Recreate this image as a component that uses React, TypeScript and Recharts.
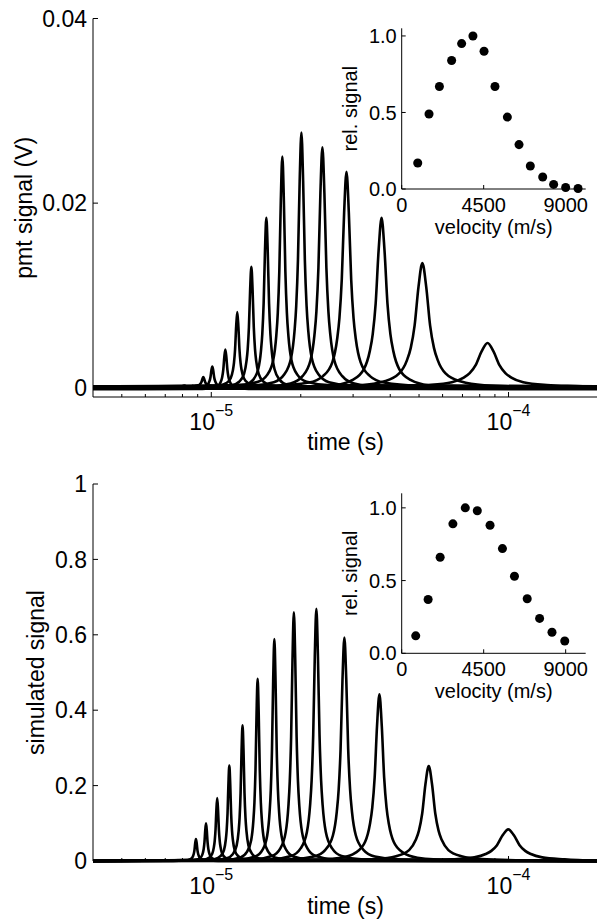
import React from 'react';
import { LineChart, Line, XAxis, YAxis, ScatterChart, Scatter } from 'recharts';

const FONT = '"Liberation Sans", Arial, Helvetica, sans-serif';

// top panel: measured pmt traces, one per velocity
const pmtPeakTime = [8.11e-6, 8.66e-6, 9.4e-6, 1.008e-5, 1.115e-5, 1.223e-5, 1.364e-5, 1.532e-5, 1.734e-5, 2.01e-5, 2.365e-5, 2.85e-5, 3.74e-5, 5.13e-5, 8.5e-5];
const pmtPeakHeight = [0.00015, 0.0003, 0.001, 0.0023, 0.0043, 0.0081, 0.0131, 0.0185, 0.0249, 0.0276, 0.0261, 0.0233, 0.0185, 0.0135, 0.0048];
// half width at half maximum, in decades of time
const pmtHalfWidth = [0.0052, 0.0055, 0.0059, 0.0062, 0.0068, 0.0074, 0.0082, 0.0091, 0.0102, 0.0116, 0.0134, 0.0158, 0.0198, 0.026, 0.04];
const pmtBaseline = [0.0001, -0.0001, 0.00015, 0, -0.00015, 0.0001, 0, -0.0001, 0.00015, 0.00005, -0.00005, 0.0001, -0.0001, 0, 0.00005];

// bottom panel: simulated traces
const simPeakTime = [8.88e-6, 9.6e-6, 1.047e-5, 1.15e-5, 1.274e-5, 1.432e-5, 1.63e-5, 1.896e-5, 2.257e-5, 2.804e-5, 3.678e-5, 5.39e-5, 9.98e-5];
const simPeakHeight = [0.058, 0.1, 0.167, 0.253, 0.36, 0.483, 0.589, 0.66, 0.669, 0.593, 0.442, 0.252, 0.084];
const simHalfWidth = [0.005, 0.0052, 0.0056, 0.006, 0.0066, 0.0072, 0.008, 0.0092, 0.0106, 0.0128, 0.016, 0.022, 0.038];
const simBaseline = [0, 0, 0, 0, 0, 0, 0, 0, 0, 0, 0, 0, 0];

// trace shape: offset in half widths -> fraction of peak height
const profileOffset = [-15, -8, -5, -3, -2, -1.5, -1, -0.5, 0, 0.5, 1, 1.5, 2, 3, 5, 8, 15];
const profileLevel = [0.006, 0.02, 0.05, 0.115, 0.22, 0.32, 0.5, 0.81, 1, 0.81, 0.5, 0.32, 0.22, 0.115, 0.05, 0.02, 0.006];

// insets: relative signal vs velocity
const pmtVelocity = [880, 1500, 2070, 2740, 3290, 3910, 4520, 5120, 5800, 6440, 7060, 7740, 8340, 9000, 9680];
const pmtRelSignal = [0.17, 0.49, 0.67, 0.84, 0.95, 1.0, 0.9, 0.67, 0.47, 0.29, 0.15, 0.078, 0.03, 0.01, 0.003];
const simVelocity = [770, 1450, 2110, 2810, 3490, 4150, 4850, 5530, 6190, 6890, 7570, 8250, 8950];
const simRelSignal = [0.12, 0.37, 0.66, 0.89, 1.0, 0.98, 0.88, 0.72, 0.53, 0.375, 0.24, 0.145, 0.085];

const timeDomain = [4e-6, 2e-4];
const timeTicks = [5e-6, 6e-6, 7e-6, 8e-6, 9e-6, 1e-5, 2e-5, 3e-5, 4e-5, 5e-5, 6e-5, 7e-5, 8e-5, 9e-5, 1e-4, 2e-4];
const timeMajor = [1e-5, 1e-4];
const pmtTicks = [0, 0.02, 0.04];
const simTicks = [0, 0.2, 0.4, 0.6, 0.8, 1];
const velTicks = [0, 4500, 9000];
const relTicks = [0, 0.5, 1];

const axisStyle = { stroke: '#000', strokeWidth: 1 };

function buildRows(times: number[], heights: number[], widths: number[], bases: number[]) {
  const rows: any[] = [];
  times.forEach((t0, i) => {
    const key = `c${i}`;
    rows.push({ t: timeDomain[0], [key]: bases[i] });
    profileOffset.forEach((o, j) => {
      const t = t0 * Math.pow(10, o * widths[i]);
      if (t > timeDomain[0] && t < timeDomain[1]) rows.push({ t, [key]: bases[i] + heights[i] * profileLevel[j] });
    });
    rows.push({ t: timeDomain[1], [key]: bases[i] });
  });
  return rows.sort((a, b) => a.t - b.t);
}

type TickOpts = { len: number; minorLen?: number; majors?: number[]; label?: (x: number, y: number, v: number) => React.ReactNode };

const makeTick = (side: 'bottom' | 'top' | 'left' | 'right', o: TickOpts) => (props: any) => {
  const { x, y, payload } = props;
  const v = payload.value;
  const major = o.majors ? o.majors.includes(v) : true;
  const len = major ? o.len : o.minorLen ?? o.len;
  const dx = side === 'left' ? len : side === 'right' ? -len : 0;
  const dy = side === 'bottom' ? -len : side === 'top' ? len : 0;
  return (
    <g>
      <line x1={x} y1={y} x2={x + dx} y2={y + dy} stroke="#000" strokeWidth={1} />
      {major && o.label ? o.label(x, y, v) : null}
    </g>
  );
};

const timeLabel = (x: number, y: number, v: number) => (
  <text x={x} y={y + 33} textAnchor="middle" fontSize={23} fill="#000">
    10<tspan dy={-14} fontSize={16}>{'\u2212' + Math.round(-Math.log10(v))}</tspan>
  </text>
);

const leftLabel = (fmt: (v: number) => string, size: number, gap: number) => (x: number, y: number, v: number) => (
  <text x={x - gap} y={y} dy="0.36em" textAnchor="end" fontSize={size} fill="#000">{fmt(v)}</text>
);

const velLabel = (x: number, y: number, v: number) => (
  <text x={x} y={y + 23} textAnchor="middle" fontSize={20} fill="#000">{String(v)}</text>
);

const xTitle = (text: string, dy: number, size: number) => (props: any) => {
  const vb = props.viewBox || { x: 0, y: 0, width: 0 };
  return (
    <text x={vb.x + vb.width / 2} y={vb.y + dy} textAnchor="middle" fontSize={size} fill="#000">{text}</text>
  );
};

const yTitle = (text: string, dx: number, size: number) => (props: any) => {
  const vb = props.viewBox || { x: 0, y: 0, height: 0 };
  const cx = vb.x + dx;
  const cy = vb.y + vb.height / 2;
  return (
    <text x={cx} y={cy} transform={`rotate(-90 ${cx} ${cy})`} textAnchor="middle" fontSize={size} fill="#000">{text}</text>
  );
};

interface PanelProps {
  rows: any[];
  count: number;
  yDomain: number[];
  yTicks: number[];
  yFormat: (v: number) => string;
  title: string;
  titleX: number;
  top: number;
  height: number;
  marginTop: number;
  axisHeight: number;
}

function TracePanel({ rows, count, yDomain, yTicks, yFormat, title, titleX, top, height, marginTop, axisHeight }: PanelProps) {
  const keys = Array.from({ length: count }, (_, i) => `c${i}`);
  return (
    <div style={{ position: 'absolute', left: 0, top }}>
      <LineChart width={610} height={height} data={rows} margin={{ top: marginTop, right: 12, bottom: 0, left: 0 }}>
        <XAxis dataKey="t" type="number" scale="log" domain={timeDomain} ticks={timeTicks} interval={0}
          height={axisHeight} tickSize={0} tickMargin={0} tickLine={false} axisLine={axisStyle}
          tick={makeTick('bottom', { len: 5, minorLen: 3, majors: timeMajor, label: timeLabel })}
          label={{ content: xTitle('time (s)', 53, 23) }} />
        <XAxis xAxisId="top" orientation="top" dataKey="t" type="number" scale="log" domain={timeDomain} ticks={timeTicks}
          interval={0} height={0} tickSize={0} tickMargin={0} tickLine={false} axisLine={axisStyle}
          tick={makeTick('top', { len: 5, minorLen: 3, majors: timeMajor })} />
        <YAxis type="number" domain={yDomain} ticks={yTicks} interval={0} width={93} tickSize={0} tickMargin={0}
          tickLine={false} axisLine={axisStyle} tick={makeTick('left', { len: 5, label: leftLabel(yFormat, 23, 6) })}
          label={{ content: yTitle(title, titleX, 23) }} />
        <YAxis yAxisId="r" orientation="right" type="number" domain={yDomain} ticks={yTicks} interval={0} width={0}
          tickSize={0} tickMargin={0} tickLine={false} axisLine={axisStyle} tick={makeTick('right', { len: 5 })} />
        {keys.map((k) => (
          <Line key={k} dataKey={k} type="monotone" stroke="#000" strokeWidth={2.6} dot={false} activeDot={false}
            connectNulls isAnimationActive={false} />
        ))}
      </LineChart>
    </div>
  );
}

function VelocityInset({ velocity, rel, yMax, top, height }: { velocity: number[]; rel: number[]; yMax: number; top: number; height: number }) {
  const pts = velocity.map((v, i) => ({ v, s: rel[i] }));
  return (
    <div style={{ position: 'absolute', left: 330, top }}>
      <ScatterChart width={270} height={height} margin={{ top: 10.3, right: 14.3, bottom: 0, left: 0 }}>
        <XAxis xAxisId="b" dataKey="v" type="number" domain={[0, 10100]} ticks={velTicks} interval={0} height={50}
          tickSize={0} tickMargin={0} tickLine={false} axisLine={axisStyle}
          tick={makeTick('bottom', { len: 4, label: velLabel })}
          label={{ content: xTitle('velocity (m/s)', 45, 20) }} />
        <XAxis xAxisId="t" orientation="top" dataKey="v" type="number" domain={[0, 10100]} ticks={velTicks} interval={0}
          height={0} tickSize={0} tickMargin={0} tickLine={false} axisLine={axisStyle} tick={makeTick('top', { len: 4 })} />
        <YAxis yAxisId="l" dataKey="s" type="number" domain={[0, yMax]} ticks={relTicks} interval={0} width={71.7}
          tickSize={0} tickMargin={0} tickLine={false} axisLine={axisStyle}
          tick={makeTick('left', { len: 4, label: leftLabel((v) => v.toFixed(1), 20, 5) })}
          label={{ content: yTitle('rel. signal', 27.5, 20) }} />
        <YAxis yAxisId="r" orientation="right" dataKey="s" type="number" domain={[0, yMax]} ticks={relTicks} interval={0}
          width={0} tickSize={0} tickMargin={0} tickLine={false} axisLine={axisStyle} tick={makeTick('right', { len: 4 })} />
        <Scatter xAxisId="b" yAxisId="l" data={pts} fill="#000" isAnimationActive={false} />
      </ScatterChart>
    </div>
  );
}

export default function App() {
  const pmtRows = buildRows(pmtPeakTime, pmtPeakHeight, pmtHalfWidth, pmtBaseline);
  const simRows = buildRows(simPeakTime, simPeakHeight, simHalfWidth, simBaseline);
  return (
    <div style={{ position: 'fixed', left: 0, top: 0, width: 597, height: 922, overflow: 'hidden', background: '#fff', fontFamily: FONT }}>
      <TracePanel rows={pmtRows} count={pmtPeakTime.length} yDomain={[-0.001, 0.04]} yTicks={pmtTicks}
        yFormat={(v) => (v === 0 ? '0' : v.toFixed(2))} title="pmt signal (V)" titleX={32}
        top={0} height={457} marginTop={18.5} axisHeight={60} />
      <TracePanel rows={simRows} count={simPeakTime.length} yDomain={[0, 1]} yTicks={simTicks}
        yFormat={(v) => String(v)} title="simulated signal" titleX={44}
        top={460} height={462} marginTop={24} axisHeight={61} />
      <VelocityInset velocity={pmtVelocity} rel={pmtRelSignal} yMax={1.05} top={18} height={221} />
      <VelocityInset velocity={simVelocity} rel={simRelSignal} yMax={1.1} top={483} height={220.3} />
    </div>
  );
}
